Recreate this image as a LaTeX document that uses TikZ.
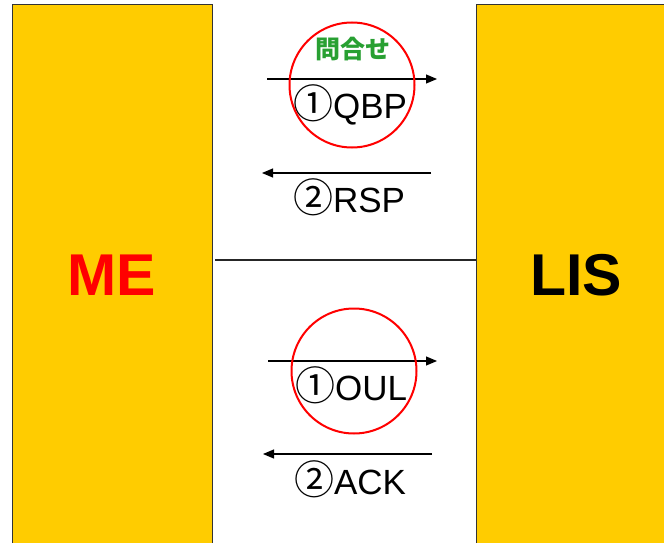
\documentclass[tikz,border=0pt]{standalone}
\usepackage{fontspec}
\setmainfont{Liberation Sans}
\newfontfamily\cjk{Noto Sans CJK JP}
\usetikzlibrary{arrows.meta}
\definecolor{boxyellow}{RGB}{255,204,0}
\definecolor{qgreen}{RGB}{40,160,50}
\newcommand{\cnum}[1]{{\cjk\fontsize{40}{40}\selectfont #1}}
\begin{document}
\begin{tikzpicture}[x=1pt,y=-1pt,
  party/.style={draw=black!80,line width=1pt,fill=boxyellow,minimum width=200pt,minimum height=540pt,inner sep=0pt,font=\fontsize{59}{59}\selectfont\bfseries},
  msg/.style={line width=1.1pt,-{Triangle[length=11pt,width=9pt]}},
  lbl/.style={anchor=base,inner sep=0pt,font=\fontsize{35}{35}\selectfont},
  ring/.style={draw=red,line width=2pt,circle,minimum size=125pt,inner sep=0pt}
  ]
\useasboundingbox (0,0) rectangle (664,543);
\clip (0,0) rectangle (664,543);
\fill[white] (0,0) rectangle (664,543);
\node[party,text=red] (me) at (112,275) {ME};
\node[party] (lis) at (576,275) {LIS};
\coordinate (sepL) at (215,260);
\draw[line width=1.2pt,black!85] (sepL) -- (sepL -| lis.west);
% top exchange
\coordinate (q1s) at (267,79); \coordinate (q1e) at (437,79);
\coordinate (q2s) at (431,173); \coordinate (q2e) at (262,173);
\draw[msg] (q1s) -- (q1e);
\draw[msg] (q2s) -- (q2e);
\node[lbl] (qbp) at (350,118) {\cnum{①}QBP};
\node[lbl] (rsp) at (349,212) {\cnum{②}RSP};
\node[inner sep=0pt,text=qgreen,font=\cjk\bfseries\fontsize{25}{25}\selectfont] (toi) at (353,49) {問合せ};
\node[ring] (c1) at (352,85) {};
% bottom exchange
\coordinate (o1s) at (268,361); \coordinate (o1e) at (437,361);
\coordinate (o2s) at (432,454); \coordinate (o2e) at (263,454);
\draw[msg] (o1s) -- (o1e);
\draw[msg] (o2s) -- (o2e);
\node[lbl] (oul) at (351,400) {\cnum{①}OUL};
\node[lbl] (ack) at (350,494) {\cnum{②}ACK};
\node[ring] (c2) at (354,371) {};
\end{tikzpicture}
\end{document}
